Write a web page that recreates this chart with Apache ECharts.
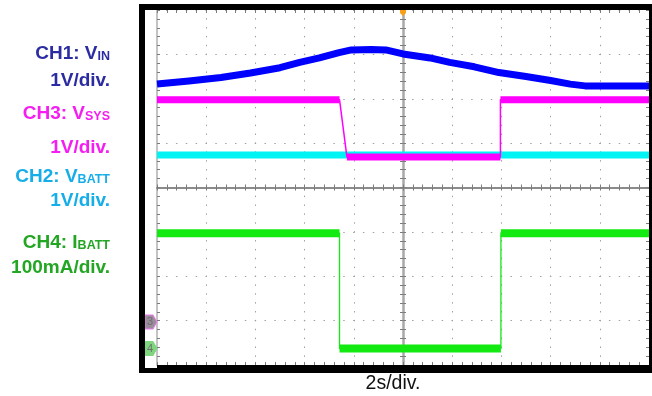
<!DOCTYPE html>
<html>
<head>
<meta charset="utf-8">
<script src="https://cdn.jsdelivr.net/npm/echarts@6.0.0/dist/echarts.min.js"></script>
<style>
  html, body { margin: 0; padding: 0; background: #ffffff; }
  #scope { width: 652px; height: 396px; }
</style>
</head>
<body>
<div id="scope"></div>
<script>
// Horizontal unit: seconds (2 s/div, 10 divisions). Vertical unit: screen divisions (0 = bottom line, 8 = top).

// CH1: VIN
const ch1Time = [0, 1.3, 2.6, 3.8, 5.0, 5.8, 6.6, 7.4, 7.9, 8.7, 9.3, 10.0, 11.1, 11.9, 12.9, 13.9, 15.0, 16.0, 16.8, 17.4, 20];
const ch1Vin  = [6.33, 6.40, 6.48, 6.58, 6.70, 6.82, 6.92, 7.04, 7.10, 7.11, 7.10, 7.01, 6.92, 6.82, 6.72, 6.59, 6.50, 6.41, 6.33, 6.29, 6.29];

// CH2: VBATT
const ch2Time  = [0, 20];
const ch2Vbatt = [4.73, 4.73];

// CH3: VSYS
const ch3Time = [0, 7.42, 7.72, 13.96, 13.96, 20];
const ch3Vsys = [5.98, 5.98, 4.69, 4.69, 5.98, 5.98];

// CH4: IBATT
const ch4Time  = [0, 7.42, 7.42, 13.98, 13.98, 20];
const ch4Ibatt = [2.97, 2.97, 0.37, 0.37, 2.97, 2.97];

// Channel ground reference markers and trigger position
const ch3Ground = 0.97;
const ch4Ground = 0.37;
const triggerTime = 10;

// Left-hand channel legend
const channelNames  = ['CH1: V', 'CH3: V', 'CH2: V', 'CH4: I'];
const channelSubs   = ['IN', 'SYS', 'BATT', 'BATT'];
const channelScales = ['1V/div.', '1V/div.', '1V/div.', '100mA/div.'];
const timeBaseLabel = '2s/div.';

const X_RANGE = [0, 20, 2];
const Y_RANGE = [0, 8, 1];

function zip(t, v) { return t.map((x, i) => [x, v[i]]); }

// Flat stretches of a stepped trace get the wide noisy band; the edges stay thin.
function flatSegments(t, v) {
  const out = [];
  for (let i = 0; i < t.length - 1; i++) {
    if (v[i] === v[i + 1] && t[i + 1] > t[i]) {
      if (out.length) out.push([t[i], '-']);
      out.push([t[i], v[i]], [t[i + 1], v[i + 1]]);
    }
  }
  return out;
}

const tickStyle = { color: '#7c7c7c', width: 1 };

function graticuleAxis(range, position, o) {
  return {
    type: 'value', min: range[0], max: range[1], interval: range[2],
    position: position, offset: o.offset || 0, silent: true,
    axisLabel: { show: false },
    axisLine: { show: !!o.line, onZero: false, lineStyle: o.line || {} },
    axisTick: { show: true, inside: o.inside, length: 3, lineStyle: tickStyle },
    minorTick: { show: true, splitNumber: 5, length: 3, lineStyle: tickStyle },
    splitLine: o.split ? { show: true, lineStyle: o.split } : { show: false }
  };
}

const baseLine = {
  type: 'line', xAxisIndex: 0, yAxisIndex: 0, showSymbol: false, symbol: 'none',
  silent: true, animation: false, clip: true
};

function trace(name, t, v, color, bandWidth, edgeWidth, z, stepped, markPoint) {
  const thin = Object.assign({}, baseLine, {
    name: name + ' edge', data: zip(t, v), z: z,
    lineStyle: { color: color, width: edgeWidth, cap: 'butt', join: 'round' }
  });
  const band = Object.assign({}, baseLine, {
    name: name, data: stepped ? flatSegments(t, v) : zip(t, v), z: z, connectNulls: false,
    lineStyle: { color: color, width: bandWidth, cap: 'butt', join: 'round' }
  });
  if (markPoint) band.markPoint = markPoint;
  return [thin, band];
}

function groundMarker(level, label, fill, border) {
  return {
    silent: true, animation: false,
    symbol: 'path://M0,0L8,0L12,7L8,14L0,14Z',
    symbolSize: [12, 14], symbolOffset: [-6, 0],
    itemStyle: { color: fill, borderColor: border, borderWidth: 1 },
    label: { show: true, position: 'inside', formatter: label, color: '#6e6e6e', fontSize: 11, offset: [-1, 0],
             fontFamily: 'Liberation Sans, Arial, sans-serif' },
    data: [{ coord: [0, level] }]
  };
}

const chart = echarts.init(document.getElementById('scope'), null, { renderer: 'canvas' });

const legendColors = ['#2c2ca2', '#f41ef0', '#16aee8', '#23a623'];
const nameBaselines = [60, 120, 183, 249];
const scaleBaselines = [89, 156, 209, 276];
const font = 'Liberation Sans, Arial, Helvetica, sans-serif';

const legendTexts = [];
channelNames.forEach((n, i) => {
  legendTexts.push({
    type: 'text', x: 110, y: nameBaselines[i] + 3, z: 120, silent: true,
    style: {
      text: '{m|' + n + '}{s|' + channelSubs[i] + '}',
      align: 'right', verticalAlign: 'bottom',
      rich: {
        m: { fontSize: 19, fontWeight: 'bold', fontFamily: font, fill: legendColors[i], lineHeight: 22, verticalAlign: 'bottom' },
        s: { fontSize: 12.5, fontWeight: 'bold', fontFamily: font, fill: legendColors[i], lineHeight: 16, verticalAlign: 'bottom' }
      }
    }
  });
  legendTexts.push({
    type: 'text', x: 110, y: scaleBaselines[i] + 3, z: 120, silent: true,
    style: {
      text: channelScales[i], align: 'right', verticalAlign: 'bottom',
      fontSize: 19, fontWeight: 'bold', fontFamily: font, fill: legendColors[i], lineHeight: 22
    }
  });
});

const frame = [
  { type: 'rect', shape: { x: 139, y: 4, width: 513, height: 6 } },
  { type: 'rect', shape: { x: 139, y: 4, width: 6, height: 369 } },
  { type: 'rect', shape: { x: 157, y: 365, width: 495, height: 8 } },
  { type: 'rect', shape: { x: 139, y: 368, width: 20, height: 5 } },
  { type: 'rect', shape: { x: 649, y: 4, width: 3, height: 369 } }
].map(r => Object.assign(r, { z: 110, silent: true, style: { fill: '#000000' } }));

const option = {
  backgroundColor: '#ffffff',
  animation: false,
  grid: { left: 157, top: 10, width: 492, height: 355, containLabel: false, outerBoundsMode: 'none', show: false },
  xAxis: [
    graticuleAxis(X_RANGE, 'bottom', { inside: true, split: { color: '#a2a2a2', width: 1, type: [1.5, 7.375], dashOffset: 0.75 } }),
    graticuleAxis(X_RANGE, 'top', { inside: true }),
    graticuleAxis(X_RANGE, 'bottom', { inside: true, offset: -177.5, line: { color: '#8a8a8a', width: 2 } }),
    graticuleAxis(X_RANGE, 'bottom', { inside: false, offset: -177.5 })
  ],
  yAxis: [
    graticuleAxis(Y_RANGE, 'left', { inside: true, line: { color: '#c4c4c4', width: 2 }, split: { color: '#a2a2a2', width: 1, type: [1.5, 8.34], dashOffset: 0.75 } }),
    graticuleAxis(Y_RANGE, 'right', { inside: true }),
    graticuleAxis(Y_RANGE, 'left', { inside: true, offset: -246, line: { color: '#a8a8a8', width: 2.5 } }),
    graticuleAxis(Y_RANGE, 'left', { inside: false, offset: -246 })
  ],
  series: [].concat(
    trace('CH2: VBATT', ch2Time, ch2Vbatt, '#00f4f4', 7, 1.2, 3, true),
    trace('CH3: VSYS', ch3Time, ch3Vsys, '#ff00ff', 7, 1.5, 4, true,
          groundMarker(ch3Ground, '3', '#9a8c9a', '#ee7aee')),
    trace('CH1: VIN', ch1Time, ch1Vin, '#0000ff', 7, 1.2, 5, false, {
      silent: true, animation: false,
      symbol: 'path://M0,0L8,0L8,4L4,8L0,4Z', symbolSize: [6, 6], symbolOffset: [0, 3],
      itemStyle: { color: '#f7a01c' }, label: { show: false },
      data: [{ coord: [triggerTime, Y_RANGE[1]] }]
    }),
    trace('CH4: IBATT', ch4Time, ch4Ibatt, '#12ea12', 8, 1.3, 6, true,
          groundMarker(ch4Ground, '4', '#7fd67f', '#7fd67f'))
  ),
  graphic: frame.concat(legendTexts, [{
    type: 'text', x: 393, y: 395, z: 120, silent: true,
    style: { text: timeBaseLabel, align: 'center', verticalAlign: 'bottom', fontSize: 19.5, fontFamily: font, fill: '#111111', lineHeight: 22 }
  }])
};

chart.setOption(option);
</script>
</body>
</html>
